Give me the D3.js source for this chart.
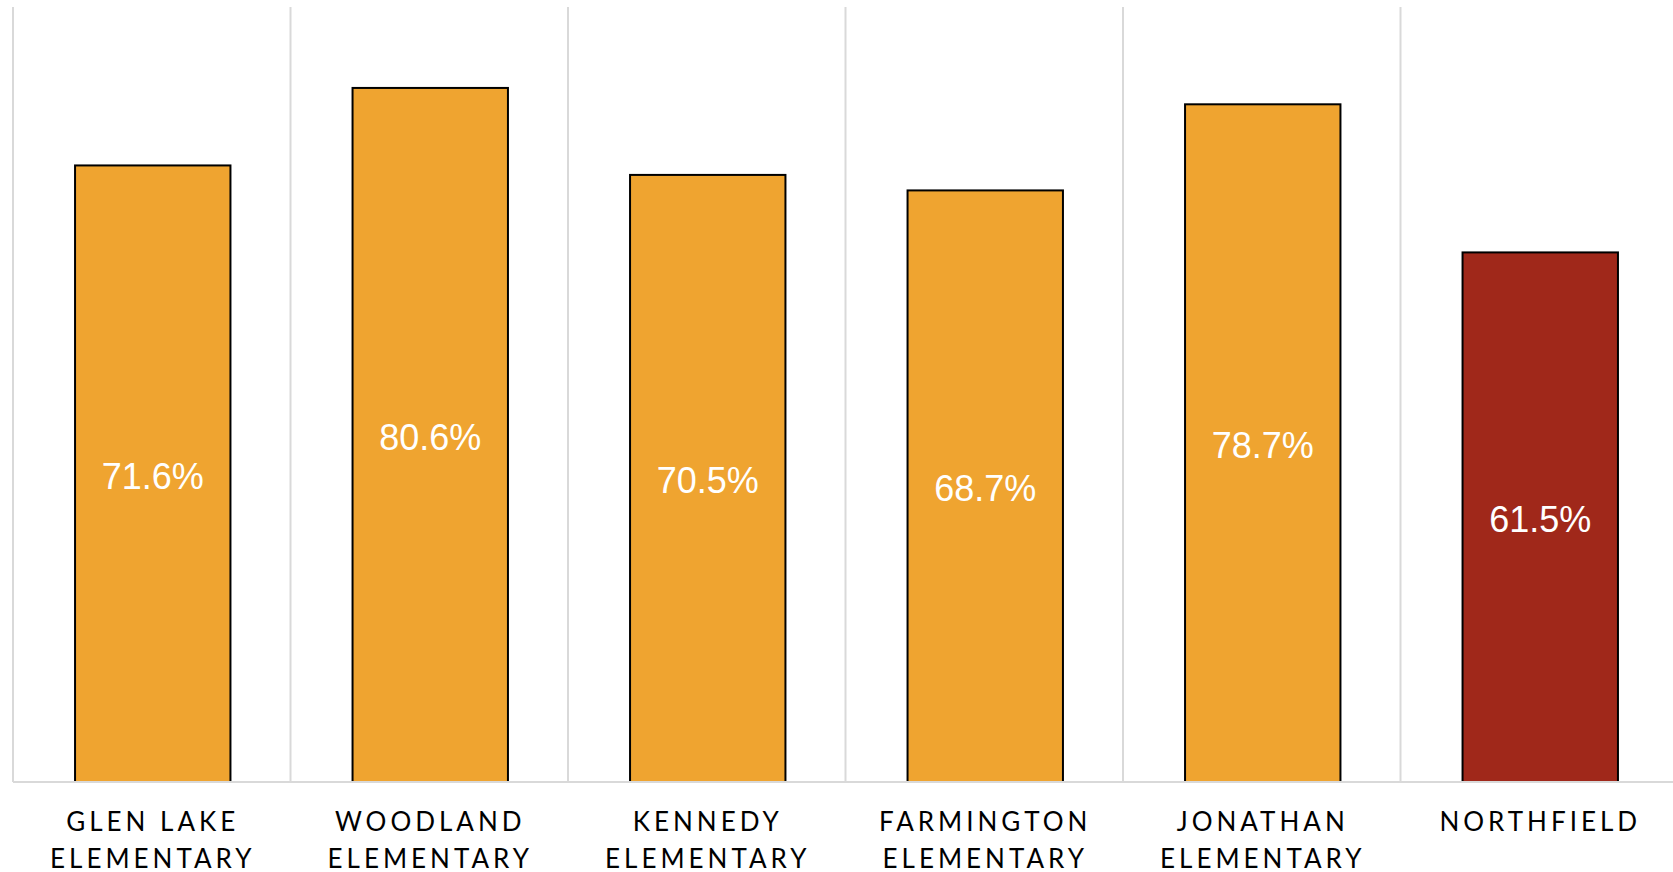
<!DOCTYPE html>
<html>
<head>
<meta charset="utf-8">
<script src="https://cdn.jsdelivr.net/npm/d3@7"></script>
<style>
  body { margin: 0; background: #fff; overflow: hidden; }
</style>
</head>
<body>
<div id="chart"></div>
<script>
// skoler og andel (%)
const schools = [
  ["GLEN LAKE", "ELEMENTARY"],
  ["WOODLAND", "ELEMENTARY"],
  ["KENNEDY", "ELEMENTARY"],
  ["FARMINGTON", "ELEMENTARY"],
  ["JONATHAN", "ELEMENTARY"],
  ["NORTHFIELD"]
];
const values = [71.6, 80.6, 70.5, 68.7, 78.7, 61.5];
const highlight = [false, false, false, false, false, true];

var width = 1673;
var height = 872;
var svg = d3.select("#chart").append("svg").attr("width", width).attr("height", height);

// plot area (obs: "top" er reserveret i window, derfor plotTop)
var plotLeft = 13, plotTop = 7, plotBottom = 782;
var bandW = 277.5;

var xScale = d3.scaleBand()
  .domain(d3.range(values.length))
  .range([plotLeft + 1, plotLeft + 1 + bandW * values.length])
  .paddingInner(0.44)
  .paddingOuter(0.22);
var yScale = d3.scaleLinear().domain([0, 90]).range([plotBottom, plotTop]);

// lodrette gitterlinjer mellem kategorier
var grid = d3.range(values.length + 1).map(i => plotLeft + i * bandW);
svg.selectAll(".grid")
  .data(grid)
  .enter()
  .append("line")
  .attr("x1", d => d).attr("x2", d => d)
  .attr("y1", plotTop).attr("y2", plotBottom)
  .attr("stroke", "#d9d9d9")
  .attr("stroke-width", 2);

// barer
svg.selectAll(".bar")
  .data(values)
  .enter()
  .append("rect")
  .attr("x", (d, i) => xScale(i))
  .attr("y", d => yScale(d))
  .attr("width", xScale.bandwidth())
  .attr("height", d => yScale(0) - yScale(d))
  .attr("fill", (d, i) => highlight[i] ? "#a0281a" : "#efa430")
  .attr("stroke", "#000")
  .attr("stroke-width", 2);

// x-akse linje
svg.append("line")
  .attr("x1", plotLeft).attr("x2", width)
  .attr("y1", plotBottom).attr("y2", plotBottom)
  .attr("stroke", "#d9d9d9")
  .attr("stroke-width", 2);

// værdi labels
svg.selectAll(".label")
  .data(values)
  .enter()
  .append("text")
  .attr("x", (d, i) => xScale(i) + xScale.bandwidth() / 2)
  .attr("y", d => (yScale(d) + yScale(0)) / 2 + 2)
  .attr("dy", "0.36em")
  .attr("text-anchor", "middle")
  .attr("font-family", "Liberation Sans, Arial, sans-serif")
  .attr("font-size", "36px")
  .attr("fill", "#fff")
  .text(d => d.toFixed(1) + "%");

// kategori labels
var cats = svg.selectAll(".cat")
  .data(schools)
  .enter()
  .append("text")
  .attr("text-anchor", "middle")
  .attr("font-family", "Lato, sans-serif")
  .attr("font-size", "26px")
  .attr("letter-spacing", "4px")
  .attr("fill", "#000");

cats.selectAll("tspan")
  .data((d, i) => d.map(t => ({ t: t, i: i })))
  .enter()
  .append("tspan")
  .attr("x", d => xScale(d.i) + xScale.bandwidth() / 2)
  .attr("y", (d, j) => 831 + j * 37)
  .text(d => d.t);
</script>
</body>
</html>
